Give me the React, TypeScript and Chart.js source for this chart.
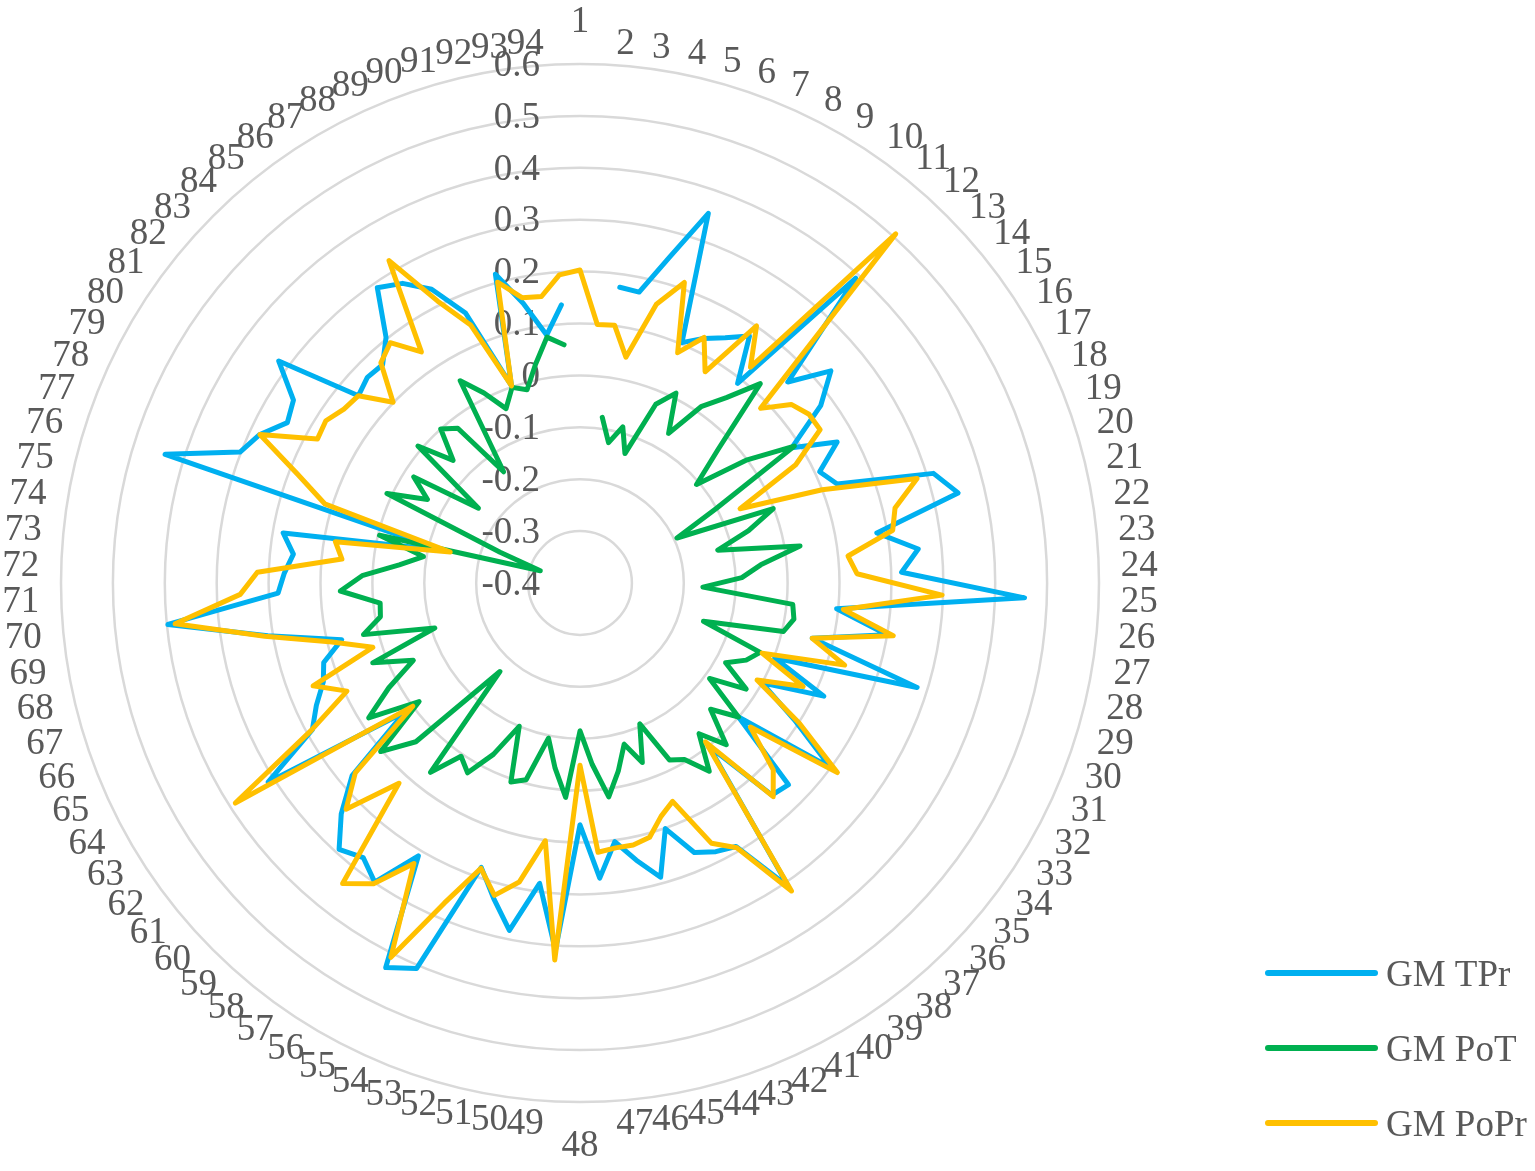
import React, { useEffect, useRef } from "react";
import { Chart, registerables } from "chart.js";

Chart.register(...registerables);

const categories: string[] = [
  "1","2","3","4","5","6","7","8","9","10","11","12","13","14","15","16","17","18","19","20",
  "21","22","23","24","25","26","27","28","29","30","31","32","33","34","35","36","37","38","39","40",
  "41","42","43","44","45","46","47","48","49","50","51","52","53","54","55","56","57","58","59","60",
  "61","62","63","64","65","66","67","68","69","70","71","72","73","74","75","76","77","78","79","80",
  "81","82","83","84","85","86","87","88","89","90","91","92","93","94",
];

const tickValues: number[] = [-0.4, -0.3, -0.2, -0.1, 0, 0.1, 0.2, 0.3, 0.4, 0.5, 0.6];
const tickLabels: string[] = ["-0.4", "-0.3", "-0.2", "-0.1", "0", "0.1", "0.2", "0.3", "0.4", "0.5", "0.6"];

const seriesNames: string[] = ["GM TPr", "GM PoT", "GM PoPr"];
const seriesColors: string[] = ["#00B0F0", "#00B050", "#FFC000"];

const gmTPr: (number | null)[] = [
  null, null, 0.175, 0.172, 0.25, 0.354, 0.103, 0.128, 0.149, 0.177,
  0.09, 0.392, 0.157, 0.233, 0.176, 0.084, 0.165, 0.109, 0.131, 0.313,
  0.349, 0.18, 0.255, 0.22, 0.457, 0.097, 0.2, 0.06, 0.28, 0.002,
  0.118, 0.0, 0.09, 0.2, 0.0, 0.159, 0.151, 0.0, 0.31, 0.19,
  0.18, 0.164, 0.101, 0.188, 0.145, 0.103, 0.17, 0.066, 0.309, 0.184,
  0.283, 0.23, 0.18, 0.407, 0.43, 0.211, 0.299, 0.274, 0.292, 0.24,
  0.175, 0.02, 0.313, 0.188, 0.16, 0.13, 0.117, 0.072, 0.21, 0.398,
  0.182, 0.17, 0.155, 0.18, -0.13, 0.437, 0.302, 0.28, 0.243, 0.255,
  0.321, 0.159, 0.17, 0.167, 0.203, 0.29, 0.271, 0.234, 0.165, 0.002,
  0.217, 0.15, 0.082, 0.137,
];

const gmPoT: (number | null)[] = [
  null, null, -0.078, -0.124, -0.088, -0.136, -0.026, 0.01, -0.065, 0.012,
  0.055, 0.118, -0.03, -0.106, 0.0, 0.09, -0.1, -0.194, -0.001, -0.06,
  -0.127, 0.03, -0.05, -0.088, -0.163, 0.012, 0.018, 0.003, -0.151, -0.028,
  -0.047, -0.08, -0.02, -0.09, 0.0, -0.05, 0.02, -0.03, 0.04, -0.005,
  -0.018, -0.105, -0.034, -0.078, -0.03, 0.016, -0.05, -0.115, 0.014, -0.04,
  -0.095, -0.007, 0.006, -0.1, -0.03, 0.025, 0.005, 0.065, -0.17, 0.04,
  0.103, -0.015, 0.083, 0.02, -0.046, 0.028, -0.107, 0.029, -0.01, -0.013,
  0.062, 0.02, -0.05, -0.094, -0.003, -0.32, -0.235, 0.01, -0.065, -0.02,
  -0.157, 0.009, -0.06, 0.0, -0.02, -0.14, 0.053, 0.01, -0.035, -0.001,
  -0.014, 0.03, 0.078, 0.06,
];

const gmPoPr: (number | null)[] = [
  0.203, 0.099, 0.101, 0.044, 0.157, 0.213, 0.082, 0.13, 0.073, 0.201,
  0.13, 0.507, 0.084, 0.133, 0.148, 0.149, 0.074, -0.06, 0.1, 0.28,
  0.224, 0.211, 0.119, 0.134, 0.298, 0.11, 0.212, 0.06, 0.134, -0.024,
  0.074, -0.011, 0.101, 0.216, 0.03, 0.118, 0.155, -0.01, 0.32, 0.193,
  0.162, 0.057, 0.076, 0.108, 0.115, 0.115, 0.12, -0.049, 0.328, 0.101,
  0.188, 0.224, 0.182, 0.27, 0.408, 0.228, 0.303, 0.338, 0.12, 0.227,
  0.167, 0.0, 0.388, 0.19, 0.095, 0.151, 0.018, 0.091, 0.216, 0.384,
  0.255, 0.222, 0.061, 0.078, -0.143, 0.115, 0.183, 0.28, 0.177, 0.181,
  0.165, 0.159, 0.101, 0.172, 0.19, 0.14, 0.322, 0.209, 0.14, 0.002,
  0.201, 0.161, 0.157, 0.195,
];

const FONT = '37px "Liberation Serif", "Times New Roman", serif';
const TEXT_COLOR = "#595959";

const labelsPlugin = {
  id: "customRadarLabels",
  beforeDatasetsDraw(chart: any) {
    const scale = chart.scales.r;
    const ctx = chart.ctx as CanvasRenderingContext2D;
    const n = categories.length;
    ctx.save();
    ctx.font = FONT;
    ctx.fillStyle = TEXT_COLOR;
    ctx.textBaseline = "middle";
    ctx.textAlign = "right";
    tickLabels.forEach((t, i) => {
      const d = scale.getDistanceFromCenterForValue(tickValues[i]);
      ctx.fillText(t, scale.xCenter - 40, scale.yCenter - d + 2);
    });
    categories.forEach((c, i) => {
      const p = scale.getPointPosition(i, scale.drawingArea + 22);
      let y = p.y + 1;
      if (i === 0) {
        ctx.textAlign = "center";
        y -= 21;
      } else if (i * 2 === n) {
        ctx.textAlign = "center";
        y += 21;
      } else if (i * 2 < n) {
        ctx.textAlign = "left";
      } else {
        ctx.textAlign = "right";
      }
      ctx.fillText(c, p.x, y);
    });
    ctx.restore();
  },
  afterDraw(chart: any) {
    const ctx = chart.ctx as CanvasRenderingContext2D;
    ctx.save();
    const ys = [973, 1048, 1123];
    seriesNames.forEach((name, i) => {
      ctx.strokeStyle = seriesColors[i];
      ctx.lineWidth = 6;
      ctx.lineCap = "round";
      ctx.beginPath();
      ctx.moveTo(1268, ys[i]);
      ctx.lineTo(1375, ys[i]);
      ctx.stroke();
      ctx.font = FONT;
      ctx.fillStyle = TEXT_COLOR;
      ctx.textAlign = "left";
      ctx.textBaseline = "middle";
      ctx.fillText(name, 1386, ys[i] + 3);
    });
    ctx.restore();
  },
};

export default function App() {
  const canvasRef = useRef<HTMLCanvasElement | null>(null);

  useEffect(() => {
    const canvas = canvasRef.current;
    if (!canvas) return;
    const series = [gmTPr, gmPoT, gmPoPr];
    const chart = new Chart(canvas, {
      type: "radar",
      data: {
        labels: categories,
        datasets: series.map((d, i) => ({
          label: seriesNames[i],
          data: d,
          borderColor: seriesColors[i],
          backgroundColor: seriesColors[i],
          borderWidth: 5,
          pointRadius: 0,
          pointHoverRadius: 0,
          fill: false,
          tension: 0,
          spanGaps: false,
          borderJoinStyle: "round" as const,
          borderCapStyle: "round" as const,
          order: 3 - i,
        })),
      },
      options: {
        responsive: false,
        animation: false,
        devicePixelRatio: 1,
        layout: { padding: { left: 61, top: 64, right: 436, bottom: 69 } },
        plugins: {
          legend: { display: false },
          tooltip: { enabled: false },
        },
        scales: {
          r: {
            min: -0.4,
            max: 0.6,
            ticks: { display: false, stepSize: 0.1 },
            grid: { color: "#D9D9D9", lineWidth: 2.5, circular: true },
            angleLines: { display: false },
            pointLabels: { display: false },
          },
        },
      },
      plugins: [labelsPlugin],
    });
    return () => chart.destroy();
  }, []);

  return (
    <div style={{ position: "absolute", left: 0, top: 0, width: 1535, height: 1171, background: "#fff" }}>
      <canvas ref={canvasRef} width={1535} height={1171} style={{ width: 1535, height: 1171 }} />
    </div>
  );
}
